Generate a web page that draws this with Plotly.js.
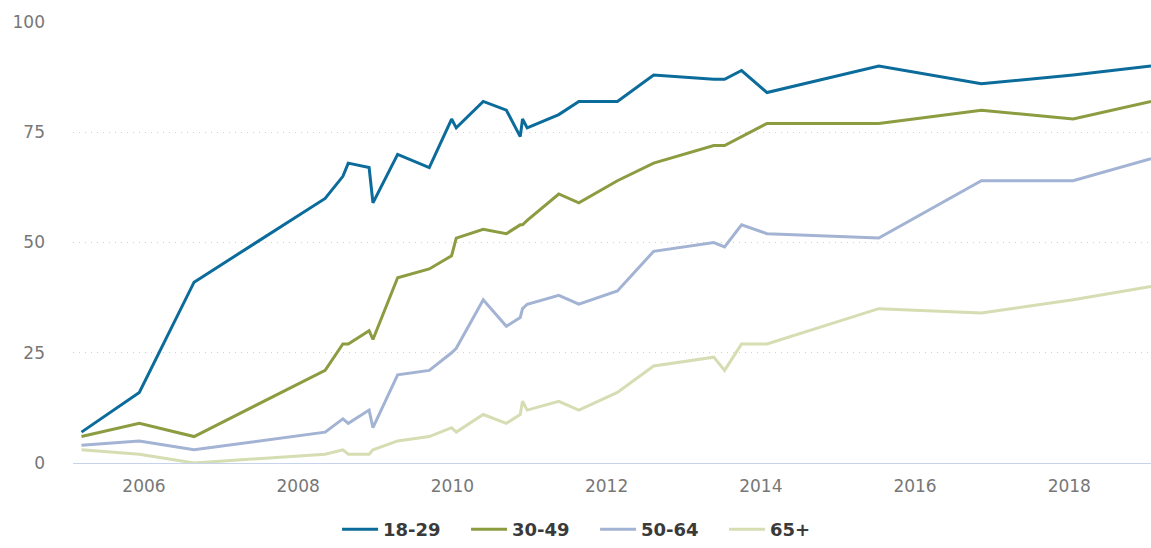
<!DOCTYPE html>
<html>
<head>
<meta charset="utf-8">
<script src="https://cdn.plot.ly/plotly-3.0.1.min.js"></script>
<style>
  html, body { margin: 0; padding: 0; background: #fff; }
  #chart { width: 1151px; height: 548px; }
</style>
</head>
<body>
<div id="chart"></div>
<script>
// Survey dates (decimal years)
const surveyDates = [2005.19, 2005.94, 2006.65, 2008.35, 2008.58, 2008.65, 2008.92, 2008.97,
  2009.29, 2009.70, 2009.99, 2010.05, 2010.40, 2010.70, 2010.88, 2010.91, 2010.97,
  2011.38, 2011.64, 2012.14, 2012.61, 2013.39, 2013.53, 2013.75, 2014.08, 2015.53,
  2016.86, 2018.05, 2019.06];

const seriesNames = ["18-29", "30-49", "50-64", "65+"];
const age18to29 = [7, 16, 41, 60, 65, 68, 67, 59, 70, 67, 78, 76, 82, 80, 74, 78, 76, 79, 82, 82, 88, 87, 87, 89, 84, 90, 86, 88, 90];
const age30to49 = [6, 9, 6, 21, 27, 27, 30, 28, 42, 44, 47, 51, 53, 52, 54, 54, 55, 61, 59, 64, 68, 72, 72, 74, 77, 77, 80, 78, 82];
const age50to64 = [4, 5, 3, 7, 10, 9, 12, 8, 20, 21, 25, 26, 37, 31, 33, 35, 36, 38, 36, 39, 48, 50, 49, 54, 52, 51, 64, 64, 69];
const age65plus = [3, 2, 0, 2, 3, 2, 2, 3, 5, 6, 8, 7, 11, 9, 11, 14, 12, 14, 12, 16, 22, 24, 21, 27, 27, 35, 34, 37, 40];

const xTickVals = [2006, 2008, 2010, 2012, 2014, 2016, 2018];
const xTickText = ["2006", "2008", "2010", "2012", "2014", "2016", "2018"];
const yTickVals = [0, 25, 50, 75, 100];

const colors = ["#0b6b9b", "#8b9c41", "#a3b3d3", "#d5ddb2"];
const values = [age18to29, age30to49, age50to64, age65plus];

const traces = values.map((v, i) => ({
  type: "scatter",
  mode: "lines",
  name: seriesNames[i],
  x: surveyDates,
  y: v,
  line: { color: colors[i], width: 3 },
  hoverinfo: "x+y+name"
})).reverse();

const layout = {
  width: 1151,
  height: 548,
  margin: { l: 73, r: 0, t: 22, b: 85, autoexpand: false },
  paper_bgcolor: "#fff",
  plot_bgcolor: "#fff",
  font: { family: "DejaVu Sans, sans-serif", color: "#777", size: 17 },
  showlegend: true,
  legend: {
    orientation: "h",
    xref: "container",
    yref: "container",
    x: 0.517,
    xanchor: "center",
    y: 0.0,
    yanchor: "bottom",
    traceorder: "reversed",
    font: { family: "DejaVu Sans, sans-serif", size: 18, color: "#3a3a3a", weight: "bold" },
    itemwidth: 36,
    entrywidth: 78,
    entrywidthmode: "pixels"
  },
  xaxis: {
    type: "linear",
    range: [2005.08, 2019.06],
    tickvals: xTickVals,
    ticktext: xTickText,
    showgrid: false,
    zeroline: false,
    showline: false,
    ticks: "",
    ticklabelstandoff: 11,
    tickfont: { family: "DejaVu Sans, sans-serif", size: 17, color: "#777" },
    fixedrange: true
  },
  yaxis: {
    range: [0, 100],
    tickvals: yTickVals,
    showgrid: true,
    gridcolor: "#cfcfcf",
    griddash: "1px,5px",
    gridwidth: 1,
    zeroline: true,
    zerolinecolor: "#c7d3ec",
    zerolinewidth: 1,
    showline: false,
    ticks: "",
    ticklabelstandoff: 27,
    tickfont: { family: "DejaVu Sans, sans-serif", size: 17, color: "#777" },
    fixedrange: true
  }
};

Plotly.newPlot("chart", traces, layout, { displayModeBar: false, staticPlot: true });
</script>
</body>
</html>
